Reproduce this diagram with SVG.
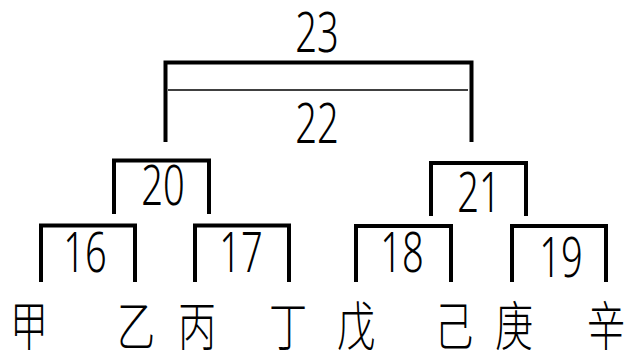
<svg xmlns="http://www.w3.org/2000/svg" width="626" height="350" viewBox="0 0 626 350">
<style>
.br{fill:none;stroke:#000;stroke-width:4;stroke-linejoin:miter;stroke-linecap:butt}
.thin{fill:none;stroke:#000;stroke-width:1.5}
.num{font-family:"Noto Sans","DejaVu Sans",sans-serif;font-size:56px;font-weight:300;text-anchor:middle;fill:#000}
.cjk{font-family:"Noto Sans CJK SC",sans-serif;font-size:53px;font-weight:300;text-anchor:middle;fill:#000}
</style>
<rect width="626" height="350" fill="#fff"/>
<g id="connectors">
<path class="br" d="M165.5,142V62.5H471.5V142"/>
<path class="thin" d="M168,90H468"/>
<path class="br" d="M114,214V160.5H209V214"/>
<path class="br" d="M431,216V163H526V216"/>
<path class="br" d="M41,282V225.5H135V282"/>
<path class="br" d="M195,282V225.5H289V282"/>
<path class="br" d="M356,282V226H451V282"/>
<path class="br" d="M512,282V226H606V282"/>
</g>
<g id="n23"><text class="num" transform="translate(317,52) scale(0.68,1)">23</text></g>
<g id="n22"><text class="num" transform="translate(317,143) scale(0.68,1)">22</text></g>
<g id="n20"><text class="num" transform="translate(163,205) scale(0.68,1)">20</text></g>
<g id="n21"><text class="num" transform="translate(479,212) scale(0.68,1)">21</text></g>
<g id="n16"><text class="num" transform="translate(85,272) scale(0.68,1)">16</text></g>
<g id="n17"><text class="num" transform="translate(241,272) scale(0.68,1)">17</text></g>
<g id="n18"><text class="num" transform="translate(402,272) scale(0.68,1)">18</text></g>
<g id="n19"><text class="num" transform="translate(561,277) scale(0.68,1)">19</text></g>
<g id="jia"><text class="cjk" transform="translate(29,346) scale(0.72,1)">甲</text></g>
<g id="yi"><text class="cjk" transform="translate(136,346) scale(0.72,1)">乙</text></g>
<g id="bing"><text class="cjk" transform="translate(197,346) scale(0.72,1)">丙</text></g>
<g id="ding"><text class="cjk" transform="translate(288,346) scale(0.72,1)">丁</text></g>
<g id="wu"><text class="cjk" transform="translate(356,346) scale(0.72,1)">戊</text></g>
<g id="ji"><text class="cjk" transform="translate(454,346) scale(0.72,1)">己</text></g>
<g id="geng"><text class="cjk" transform="translate(514,346) scale(0.72,1)">庚</text></g>
<g id="xin"><text class="cjk" transform="translate(606,346) scale(0.72,1)">辛</text></g>
</svg>
